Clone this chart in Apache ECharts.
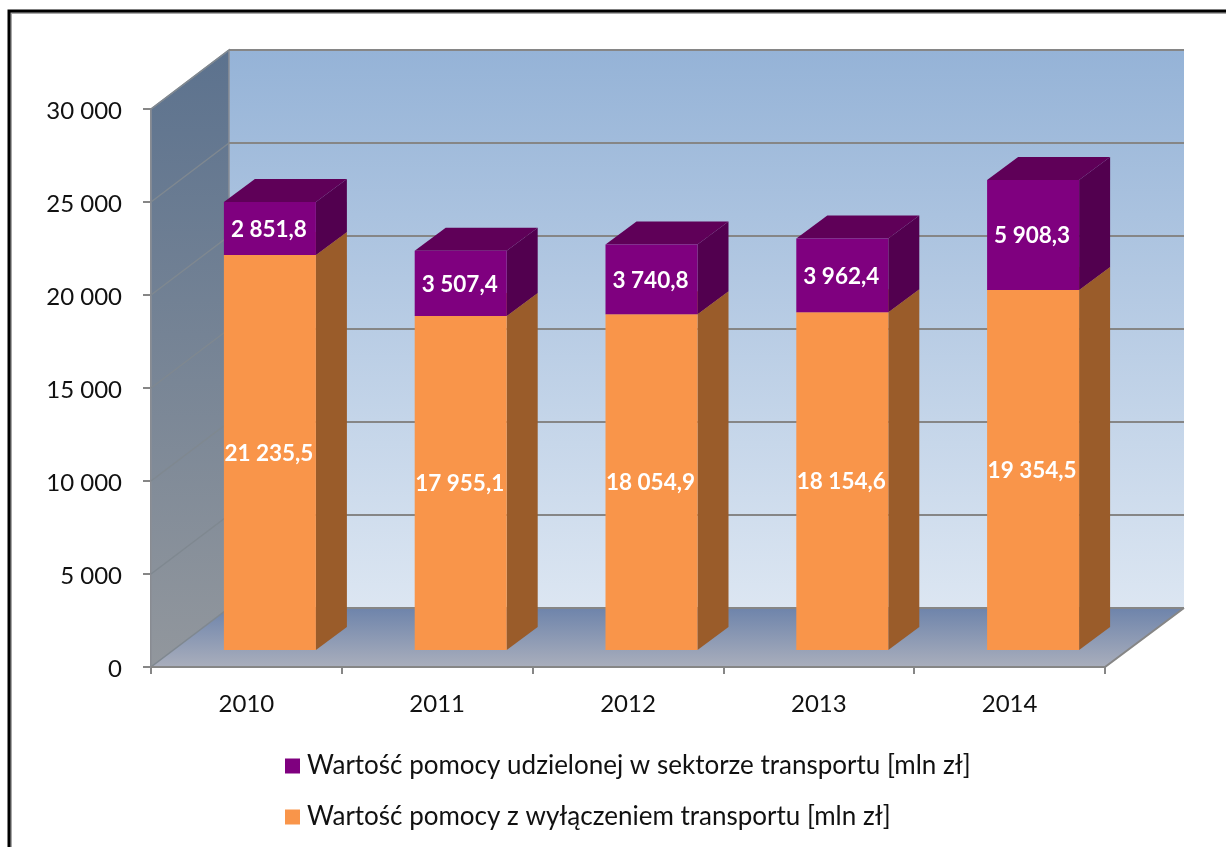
<!DOCTYPE html>
<html>
<head>
<meta charset="utf-8">
<style>html,body{margin:0;padding:0;background:#fff}#chart{width:1226px;height:847px}</style>
<script src="https://cdn.jsdelivr.net/npm/echarts@6/dist/echarts.min.js"></script>
</head>
<body>
<div id="chart"></div>
<script>
var categories = ['2010', '2011', '2012', '2013', '2014'];
var otherAid = [21235.5, 17955.1, 18054.9, 18154.6, 19354.5];
var transportAid = [2851.8, 3507.4, 3740.8, 3962.4, 5908.3];
var yTicks = [0, 5000, 10000, 15000, 20000, 25000, 30000];
var nameTransport = 'Wartość pomocy udzielonej w sektorze transportu [mln zł]';
var nameOther = 'Wartość pomocy z wyłączeniem transportu [mln zł]';

var FONT = 'Lato';
var GRID_COLOR = '#868686';
var WALL_DX = 78, WALL_DY = 59;
var BAR_SHIFT_X = 23.5, BAR_LIFT = 17, BAR_DX = 31, BAR_DY = 23, BAR_W = 92;

function fmt(v, dec) {
  var s = v.toFixed(dec).split('.');
  var i = s[0].replace(/\B(?=(\d{3})+$)/g, '\u00a0');
  return s.length > 1 ? i + ',' + s[1] : i;
}
function vGrad(a, b) {
  return { type: 'linear', x: 0, y: 0, x2: 0, y2: 1, colorStops: [{ offset: 0, color: a }, { offset: 1, color: b }] };
}

function renderWalls(params, api) {
  var c = params.coordSys;
  var l = c.x, r = c.x + c.width, t = c.y, b = c.y + c.height;
  var dx = WALL_DX, dy = WALL_DY;
  return {
    type: 'group',
    children: [
      { type: 'rect', shape: { x: l + dx, y: t - dy, width: c.width + 1, height: c.height },
        style: { fill: vGrad('#95B3D7', '#DCE6F2') } },
      { type: 'polygon', shape: { points: [[l, t], [l + dx, t - dy], [l + dx, b - dy], [l, b]] },
        style: { fill: vGrad('#5C728E', '#92979D'), stroke: '#8a8f96', lineWidth: 1.5 } },
      { type: 'polygon', shape: { points: [[l, b], [r, b], [r + dx + 1, b - dy], [l + dx, b - dy]] },
        style: { fill: vGrad('#6E84AB', '#A9AEBC') } }
    ]
  };
}

function renderGridLine(params, api) {
  var c = params.coordSys;
  var y = api.coord([0, api.value(0)])[1];
  var l = c.x, r = c.x + c.width;
  var isFloor = api.value(0) === 0;
  var children = [
    { type: 'polyline', shape: { points: [[l, y], [l + WALL_DX, y - WALL_DY]] },
      style: { fill: null, stroke: '#7F8890', lineWidth: 1.5 } },
    { type: 'polyline', shape: { points: [[l + WALL_DX, y - WALL_DY], [r + WALL_DX + 1, y - WALL_DY]] },
      style: { fill: null, stroke: GRID_COLOR, lineWidth: 2 } }
  ];
  if (isFloor) {
    children.push({ type: 'polyline', shape: { points: [[l, y], [r, y], [r + WALL_DX + 1, y - WALL_DY]] },
      style: { fill: null, stroke: GRID_COLOR, lineWidth: 2 } });
  }
  return { type: 'group', children: children };
}

function barRenderer(front, side, top) {
  return function (params, api) {
    var idx = api.value(0), base = api.value(1), val = api.value(2);
    var p0 = api.coord([idx, base]);
    var p1 = api.coord([idx, base + val]);
    var x0 = p0[0] + BAR_SHIFT_X - BAR_W / 2, x1 = x0 + BAR_W;
    var y0 = p0[1] - BAR_LIFT, y1 = p1[1] - BAR_LIFT;
    return {
      type: 'group',
      children: [
        { type: 'polygon', shape: { points: [[x1, y0], [x1 + BAR_DX, y0 - BAR_DY], [x1 + BAR_DX, y1 - BAR_DY], [x1, y1]] },
          style: { fill: side } },
        { type: 'polygon', shape: { points: [[x0, y1], [x1, y1], [x1 + BAR_DX, y1 - BAR_DY], [x0 + BAR_DX, y1 - BAR_DY]] },
          style: { fill: top } },
        { type: 'rect', shape: { x: x0, y: y1, width: BAR_W, height: y0 - y1 }, style: { fill: front } },
        { type: 'text', x: (x0 + x1) / 2 - 1, y: (y0 + y1) / 2 + 1,
          style: { text: fmt(val, 1), fill: '#fff', font: 'bold 22.5px ' + FONT, align: 'center', verticalAlign: 'middle' } }
      ]
    };
  };
}

var otherData = categories.map(function (c, i) { return [i, 0, otherAid[i]]; });
var transportData = categories.map(function (c, i) { return [i, otherAid[i], transportAid[i]]; });

var chart = echarts.init(document.getElementById('chart'), null, { renderer: 'canvas' });
chart.setOption({
  animation: false,
  backgroundColor: '#ffffff',
  textStyle: { fontFamily: FONT },
  grid: { left: 151, top: 109, width: 954, height: 558, containLabel: false },
  xAxis: {
    type: 'category', data: categories,
    axisLine: { show: true, lineStyle: { color: GRID_COLOR, width: 2 } },
    axisTick: { show: true, length: 7, lineStyle: { color: GRID_COLOR, width: 2 } },
    axisLabel: { margin: 25, fontSize: 24, color: '#111', fontFamily: FONT }
  },
  yAxis: {
    type: 'value', min: 0, max: 30000, interval: 5000,
    axisLine: { show: true, lineStyle: { color: GRID_COLOR, width: 2 } },
    axisTick: { show: true, length: 8, lineStyle: { color: GRID_COLOR, width: 2 } },
    splitLine: { show: false },
    axisLabel: { margin: 29, fontSize: 24, color: '#111', fontFamily: FONT, verticalAlign: 'top', lineHeight: 4, formatter: function (v) { return fmt(v, 0); } }
  },
  legend: {
    orient: 'vertical', left: 285, top: 753, icon: 'rect', itemWidth: 15, itemHeight: 15, itemGap: 25,
    data: [nameTransport, nameOther], selectedMode: false, padding: 0,
    textStyle: { fontSize: 26, color: '#111', fontFamily: FONT, padding: [0, 0, 0, 2] }
  },
  graphic: [
    { type: 'polyline', z: 100, shape: { points: [[9, 847], [9, 11], [1226, 11]] }, style: { fill: null, stroke: '#000', lineWidth: 3 } },
    { type: 'polyline', z: 99, shape: { points: [[11, 847], [11, 13], [1226, 13]] }, style: { fill: null, stroke: '#a8a8a8', lineWidth: 2 } }
  ],
  series: [
    { type: 'custom', name: 'walls', silent: true, z: 2, renderItem: renderWalls, data: [[0]], clip: false },
    { type: 'custom', name: 'grid', silent: true, z: 3, renderItem: renderGridLine, data: yTicks.map(function (v) { return [v]; }), encode: { y: 0 }, clip: false },
    { type: 'custom', name: nameOther, z: 4, itemStyle: { color: '#F9954A' }, renderItem: barRenderer('#F9954A', '#9A5C2A', '#B8703A'), data: otherData, encode: { x: 0, y: 2 }, clip: false },
    { type: 'custom', name: nameTransport, z: 5, itemStyle: { color: '#7F007F' }, renderItem: barRenderer('#7F007F', '#52004F', '#5F0058'), data: transportData, encode: { x: 0, y: 2 }, clip: false }
  ]
});
</script>
</body>
</html>
